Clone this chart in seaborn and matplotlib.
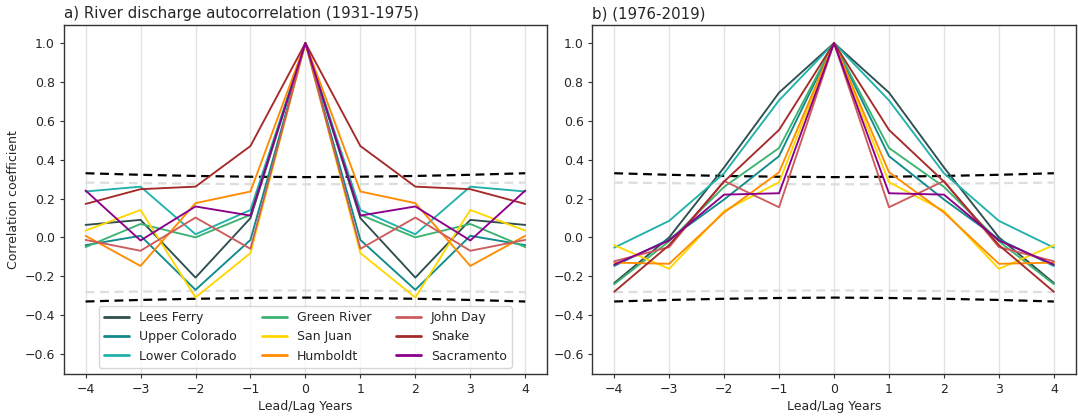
import matplotlib
matplotlib.use("Agg")
import matplotlib.pyplot as plt
import numpy as np
import pandas as pd
import seaborn as sns

# Lead/lag in years
lags = [-4, -3, -2, -1, 0, 1, 2, 3, 4]

rivers = ["Lees Ferry", "Upper Colorado", "Lower Colorado", "Green River",
          "San Juan", "Humboldt", "John Day", "Snake", "Sacramento"]

colors = ["#2f4f4f", "#108a8a", "#20b2aa", "#3cb371",
          "#ffd700", "#ff8c00", "#cd5c5c", "#a52a2a", "#8b008b"]

# Autocorrelation, 1931-1975
early = {
    "Lees Ferry":     [0.064, 0.090, -0.207, 0.099, 1.0, 0.099, -0.207, 0.090, 0.064],
    "Upper Colorado": [-0.040, 0.008, -0.270, -0.013, 1.0, -0.013, -0.270, 0.008, -0.040],
    "Lower Colorado": [0.236, 0.261, 0.016, 0.141, 1.0, 0.141, 0.016, 0.261, 0.236],
    "Green River":    [-0.050, 0.069, 0.000, 0.116, 1.0, 0.116, 0.000, 0.069, -0.050],
    "San Juan":       [0.035, 0.141, -0.309, -0.081, 1.0, -0.081, -0.309, 0.141, 0.035],
    "Humboldt":       [0.008, -0.147, 0.176, 0.236, 1.0, 0.236, 0.176, -0.147, 0.008],
    "John Day":       [-0.013, -0.069, 0.102, -0.059, 1.0, -0.059, 0.102, -0.069, -0.013],
    "Snake":          [0.172, 0.248, 0.261, 0.470, 1.0, 0.470, 0.261, 0.248, 0.172],
    "Sacramento":     [0.241, -0.016, 0.159, 0.112, 1.0, 0.112, 0.159, -0.016, 0.241],
}

# Autocorrelation, 1976-2019
late = {
    "Lees Ferry":     [-0.235, 0.000, 0.360, 0.745, 1.0, 0.745, 0.360, 0.000, -0.235],
    "Upper Colorado": [-0.147, -0.010, 0.195, 0.418, 1.0, 0.418, 0.195, -0.010, -0.147],
    "Lower Colorado": [-0.053, 0.085, 0.330, 0.705, 1.0, 0.705, 0.330, 0.085, -0.053],
    "Green River":    [-0.241, -0.020, 0.260, 0.460, 1.0, 0.460, 0.260, -0.020, -0.241],
    "San Juan":       [-0.040, -0.162, 0.136, 0.284, 1.0, 0.284, 0.136, -0.162, -0.040],
    "Humboldt":       [-0.130, -0.136, 0.128, 0.335, 1.0, 0.335, 0.128, -0.136, -0.130],
    "John Day":       [-0.123, -0.050, 0.290, 0.155, 1.0, 0.155, 0.290, -0.050, -0.123],
    "Snake":          [-0.280, -0.040, 0.287, 0.553, 1.0, 0.553, 0.287, -0.040, -0.280],
    "Sacramento":     [-0.140, -0.016, 0.220, 0.227, 1.0, 0.227, 0.220, -0.016, -0.140],
}

# Significance bounds
bound_95 = [0.330, 0.322, 0.316, 0.312, 0.310, 0.312, 0.316, 0.322, 0.330]
bound_90 = [0.282, 0.279, 0.276, 0.274, 0.273, 0.274, 0.276, 0.279, 0.282]

yticks = [-0.6, -0.4, -0.2, 0.0, 0.2, 0.4, 0.6, 0.8, 1.0]

sns.set_style("ticks")
plt.rcParams["font.family"] = ["DejaVu Sans"]

fig, axes = plt.subplots(1, 2, figsize=(10.78, 4.16), dpi=100)
fig.subplots_adjust(left=0.059, right=0.998, bottom=0.101, top=0.94, wspace=0.093)

palette = dict(zip(rivers, colors))


def to_long(data):
    rows = []
    for name in rivers:
        for lag, val in zip(lags, data[name]):
            rows.append({"lag": lag, "r": val, "river": name})
    return pd.DataFrame(rows)


def draw(ax, data, title, legend):
    ax.grid(axis="x", color="#e3e3e3", linewidth=1.0)
    ax.set_axisbelow(True)
    df = to_long(data)
    sns.lineplot(data=df, x="lag", y="r", hue="river", hue_order=rivers,
                 palette=palette, linewidth=1.35, ax=ax, legend=legend,
                 estimator=None, sort=True)
    bdf = pd.DataFrame({"lag": lags, "b95": bound_95, "b90": bound_90})
    for col, c in (("b90", "#dddddd"), ("b95", "black")):
        for sgn in (1, -1):
            ax.plot(bdf["lag"], sgn * bdf[col], linestyle=(0, (4, 2.5)),
                    color=c, linewidth=1.6, zorder=1.5)
    ax.set_xlim(-4.4, 4.4)
    ax.set_ylim(-0.703, 1.093)
    ax.set_xticks(lags)
    ax.set_yticks(yticks)
    ax.set_yticklabels([f"{v:.1f}".replace("-", "\u2212") for v in yticks])
    ax.set_xlabel("Lead/Lag Years", fontsize=9, labelpad=3)
    ax.set_title(title, loc="left", fontsize=10.8, pad=5)
    for s in ax.spines.values():
        s.set_color("#333333")
        s.set_linewidth(1.0)
    ax.tick_params(labelsize=9, color="#333333", length=3.2, pad=3)


draw(axes[0], early, "a) River discharge autocorrelation (1931-1975)", True)
draw(axes[1], late, "b) (1976-2019)", False)
axes[0].set_ylabel("Correlation coefficient", fontsize=9, labelpad=3)
axes[1].set_ylabel("")

leg = axes[0].legend(loc="lower center", ncol=3, fontsize=9, frameon=True,
                     handlelength=2.0, columnspacing=2.0, borderaxespad=0.5)
for line in leg.get_lines():
    line.set_linewidth(2.0)

fig.savefig("out.png", dpi=100)
